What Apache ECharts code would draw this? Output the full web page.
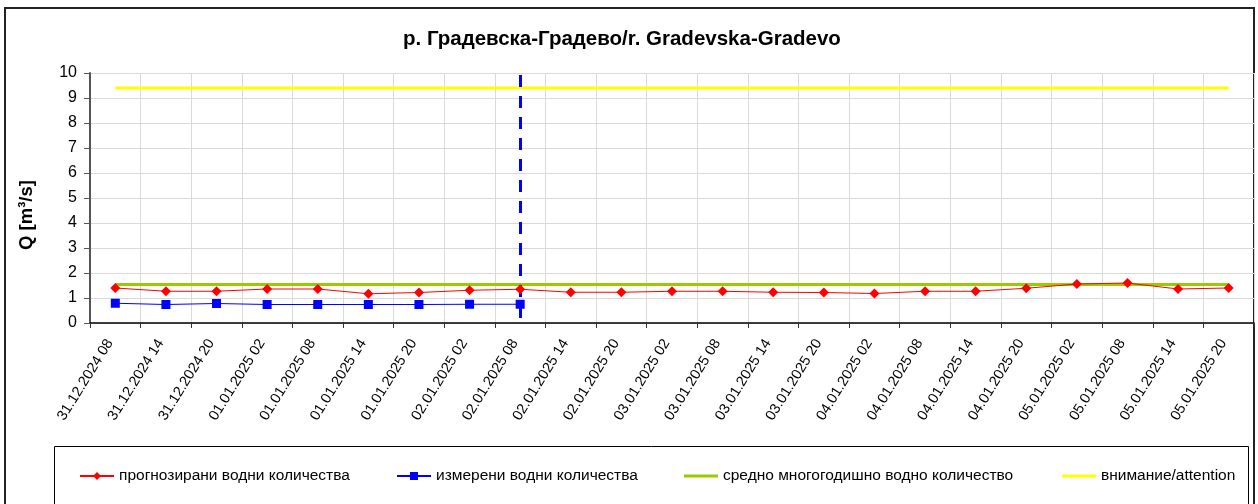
<!DOCTYPE html>
<html>
<head>
<meta charset="utf-8">
<script src="https://cdn.jsdelivr.net/npm/echarts@6/dist/echarts.min.js"></script>
<style>
html,body{margin:0;padding:0;background:#fff;}
#chart{width:1258px;height:504px;}
</style>
</head>
<body>
<div id="chart"></div>
<script>
var categories = ["31.12.2024 08","31.12.2024 14","31.12.2024 20","01.01.2025 02","01.01.2025 08","01.01.2025 14","01.01.2025 20","02.01.2025 02","02.01.2025 08","02.01.2025 14","02.01.2025 20","03.01.2025 02","03.01.2025 08","03.01.2025 14","03.01.2025 20","04.01.2025 02","04.01.2025 08","04.01.2025 14","04.01.2025 20","05.01.2025 02","05.01.2025 08","05.01.2025 14","05.01.2025 20"];
var forecast = [1.40,1.27,1.27,1.36,1.36,1.17,1.22,1.31,1.35,1.23,1.23,1.27,1.27,1.23,1.22,1.18,1.27,1.27,1.39,1.56,1.60,1.36,1.40];
var measured = [0.79,0.74,0.78,0.74,0.74,0.74,0.74,0.75,0.75];
var meanFlow = [1.54,1.54,1.54,1.54,1.54,1.54,1.54,1.54,1.54,1.54,1.54,1.54,1.54,1.54,1.54,1.54,1.54,1.54,1.54,1.54,1.54,1.54,1.54];
var attention = [9.4,9.4,9.4,9.4,9.4,9.4,9.4,9.4,9.4,9.4,9.4,9.4,9.4,9.4,9.4,9.4,9.4,9.4,9.4,9.4,9.4,9.4,9.4];
var nowIndex = 8;
var nowLineRange = [0.2, 10];
var yTicks = [0,1,2,3,4,5,6,7,8,9,10];
var names = ["прогнозирани водни количества","измерени водни количества","средно многогодишно водно количество","внимание/attention"];
var titleText = "р. Градевска-Градево/r. Gradevska-Gradevo";
var yName = "Q [m\u00B3/s]";

var chart = echarts.init(document.getElementById('chart'));
var font = 'Liberation Sans, Arial, sans-serif';
function leg(i, left, plain){
  var o = {data:[names[i]], left:left, top:468, padding:0, itemWidth:34, itemHeight:plain ? 3 : 10, itemGap:5,
    textStyle:{fontFamily:font, fontSize:15.5, color:'#000'}, selectedMode:false};
  if (plain) o.icon = 'rect';
  return o;
}
chart.setOption({
  animation:false,
  backgroundColor:'#fff',
  title:{text:titleText, left:403, top:29, padding:0,
    textStyle:{fontFamily:font, fontSize:20.5, fontWeight:'bold', color:'#000'}},
  graphic:[
    {type:'rect', shape:{x:5, y:8, width:1249, height:520}, style:{fill:'none', stroke:'#222', lineWidth:2}, silent:true, z:-1},
    {type:'rect', shape:{x:54.5, y:446.5, width:1194, height:80}, style:{fill:'none', stroke:'#000', lineWidth:1}, silent:true, z:-1}
  ],
  legend:[leg(0,79,false), leg(1,396,false), leg(2,684,true), leg(3,1062,true)],
  grid:{left:90, right:4, top:73, bottom:181, containLabel:false, outerBoundsMode:'none'},
  xAxis:{type:'category', data:categories, boundaryGap:true,
    axisLine:{lineStyle:{color:'#000', width:1.5}},
    axisTick:{show:true, length:5, lineStyle:{color:'#333'}},
    splitLine:{show:true, lineStyle:{color:'#d9d9d9', width:1}},
    axisLabel:{rotate:58, interval:0, margin:9, fontFamily:font, fontSize:14.5, color:'#000', padding:[0,10,8,0]}},
  yAxis:{type:'value', min:0, max:10, interval:1,
    name:yName, nameLocation:'middle', nameGap:54, nameRotate:90,
    nameTextStyle:{fontFamily:font, fontSize:18.5, fontWeight:'bold', color:'#000', padding:[0,34,0,0]},
    axisLine:{show:true, lineStyle:{color:'#555', width:2}},
    axisTick:{show:true, length:6, lineStyle:{color:'#555'}},
    splitLine:{show:true, lineStyle:{color:'#d9d9d9', width:1}},
    axisLabel:{margin:13, fontFamily:font, fontSize:16, color:'#000',
      formatter:function(v){return yTicks.indexOf(v)>=0 ? String(v) : '';}}},
  series:[
    {name:names[0], type:'line', data:forecast, z:5, symbol:'diamond', symbolSize:10,
      itemStyle:{color:'#ff0000'}, lineStyle:{color:'#ff0000', width:1}},
    {name:names[1], type:'line', data:measured, z:4, symbol:'rect', symbolSize:9,
      itemStyle:{color:'#0000ff'}, lineStyle:{color:'#0000ff', width:1},
      markLine:{silent:true, symbol:['none','none'], label:{show:false},
        lineStyle:{color:'#0000ff', width:3, type:[12,9]},
        data:[[{coord:[nowIndex, nowLineRange[0]]},{coord:[nowIndex, nowLineRange[1]]}]]}},
    {name:names[2], type:'line', data:meanFlow, z:3, symbol:'none', showSymbol:false,
      itemStyle:{color:'#99cc00'}, lineStyle:{color:'#99cc00', width:3}},
    {name:names[3], type:'line', data:attention, z:3, symbol:'none', showSymbol:false,
      itemStyle:{color:'#ffff00'}, lineStyle:{color:'#ffff00', width:3}}
  ]
});
</script>
</body>
</html>
